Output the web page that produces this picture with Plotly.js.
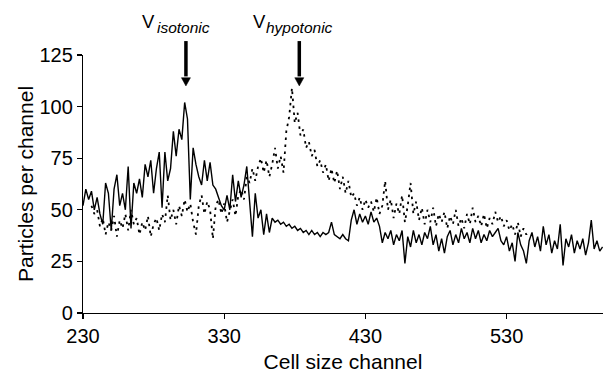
<!DOCTYPE html>
<html>
<head>
<meta charset="utf-8">
<script src="https://cdn.plot.ly/plotly-3.0.1.min.js"></script>
<style>html,body{margin:0;padding:0;background:#fff;}#chart{width:603px;height:373px;}</style>
</head>
<body>
<div id="chart"></div>
<script>
// Channel sampling (every 2nd channel)
const channelStep = 2;
const isotonicStart = 230;
const hypotonicStart = 236;

// Particles per channel, isotonic (solid line), channels 230..598
const isotonicValues = [
52,60,55,59,50,56,48,43,63,58,40,60,67,52,58,50,71,41,63,58,
65,56,72,66,74,58,70,78,51,78,64,70,88,76,89,84,102,94,55,80,
72,66,62,74,64,73,62,60,56,52,50,57,50,67,54,64,56,62,71,52,
37,58,46,50,38,48,39,46,44,45,43,44,42,43,41,42,40,41,39,40,
38,40,38,39,37,39,38,39,44,38,37,36,38,36,35,45,50,43,48,44,
47,43,49,44,46,42,34,39,36,40,33,38,35,40,24,37,32,40,34,38,
33,39,36,42,33,38,30,36,29,37,40,33,38,34,41,36,39,34,41,36,
40,34,38,35,40,37,39,41,35,33,37,30,34,25,39,33,30,24,35,39,
32,37,30,42,33,38,29,35,31,43,23,36,32,38,29,35,31,36,28,34,
45,31,35,30,32
];

// Particles per channel, hypotonic (dotted line), channels 236..546
const hypotonicValues = [
52,48,50,42,46,38,44,40,47,37,45,41,48,40,50,43,46,38,44,40,
47,37,43,46,40,48,44,57,45,50,43,52,47,55,49,53,44,38,52,57,
48,54,50,36,52,55,48,53,44,50,55,47,57,60,55,66,63,70,64,71,
75,68,74,66,72,80,70,76,68,88,95,109,92,97,86,89,80,83,76,79,
71,74,68,72,64,70,63,69,60,66,58,64,56,58,52,56,50,55,51,54,
49,56,48,52,64,50,55,46,53,48,57,44,52,63,48,54,45,51,43,50,
44,51,42,48,44,49,41,47,43,50,42,46,41,48,43,51,44,47,42,48,
41,46,43,49,44,47,42,45,40,43,38,44,37,41,38,40
];

const xTicks = [230, 330, 430, 530];
const yTicks = [0, 25, 50, 75, 100, 125];

// Arrow markers: "V" + italic subscript label
const markerMain = ['V', 'V'];
const markerLabels = ['isotonic', 'hypotonic'];
const markerChannels = [302.9, 383.2];
const markerMainChannels = [276.7, 354.9];
const markerLabelChannels = [301.3, 383.6];

function channels(start, n) {
  const out = [];
  for (let i = 0; i < n; i++) out.push(start + i * channelStep);
  return out;
}

const font = 'Liberation Sans, Arial, Helvetica, sans-serif';

const traces = [
  {
    x: channels(isotonicStart, isotonicValues.length),
    y: isotonicValues,
    mode: 'lines',
    line: {color: '#000', width: 1.4},
    showlegend: false,
    hoverinfo: 'skip'
  },
  {
    x: channels(hypotonicStart, hypotonicValues.length),
    y: hypotonicValues,
    mode: 'lines',
    line: {color: '#000', width: 1.8, dash: '2.5px,4.5px'},
    showlegend: false,
    hoverinfo: 'skip'
  }
];

// arrow geometry in paper units (vertical) / channel units (horizontal)
const shaftTop = 1.054, headBase = 0.912, tipY = 0.880, headHalf = 3.2;
const shapes = [];
const annotations = [];
for (let i = 0; i < markerLabels.length; i++) {
  const c = markerChannels[i];
  shapes.push({
    type: 'line', xref: 'x', yref: 'paper',
    x0: c, x1: c, y0: shaftTop, y1: headBase + 0.005,
    line: {color: '#000', width: 3.5}
  });
  shapes.push({
    type: 'path', xref: 'x', yref: 'paper',
    path: 'M' + (c - headHalf) + ',' + headBase + ' L' + (c + headHalf) + ',' + headBase + ' L' + c + ',' + tipY + ' Z',
    fillcolor: '#000', line: {color: '#000', width: 0.5}
  });
  annotations.push({
    x: markerMainChannels[i], y: 1.129, xref: 'x', yref: 'paper',
    xanchor: 'center', yanchor: 'middle',
    text: markerMain[i],
    font: {family: font, size: 18.5, color: '#000'},
    showarrow: false
  });
  annotations.push({
    x: markerLabelChannels[i], y: 1.105, xref: 'x', yref: 'paper',
    xanchor: 'center', yanchor: 'middle',
    text: markerLabels[i],
    font: {family: font, size: 15.5, color: '#000', style: 'italic'},
    showarrow: false
  });
}

const layout = {
  width: 603, height: 373,
  margin: {l: 83, r: 0, t: 55, b: 60, pad: 0},
  paper_bgcolor: '#fff', plot_bgcolor: '#fff',
  font: {family: font, size: 20, color: '#000'},
  xaxis: {
    range: [230, 598.3],
    tickvals: xTicks, ticktext: xTicks.map(String),
    ticks: 'outside', ticklen: 5, tickwidth: 1.2, tickcolor: '#000',
    showline: true, linecolor: '#000', linewidth: 1.2,
    showgrid: false, zeroline: false,
    tickfont: {family: font, size: 20},
    title: {text: 'Cell size channel', font: {family: font, size: 21}, standoff: 9}
  },
  yaxis: {
    range: [0, 125],
    tickvals: yTicks, ticktext: yTicks.map(String),
    ticks: 'outside', ticklen: 5, tickwidth: 1.2, tickcolor: '#000',
    showline: true, linecolor: '#000', linewidth: 1.2,
    showgrid: false, zeroline: false,
    tickfont: {family: font, size: 20},
    title: {text: 'Particles per channel', font: {family: font, size: 21}, standoff: 0}
  },
  shapes: shapes,
  annotations: annotations
};

Plotly.newPlot('chart', traces, layout, {staticPlot: true, displayModeBar: false});
</script>
</body>
</html>
